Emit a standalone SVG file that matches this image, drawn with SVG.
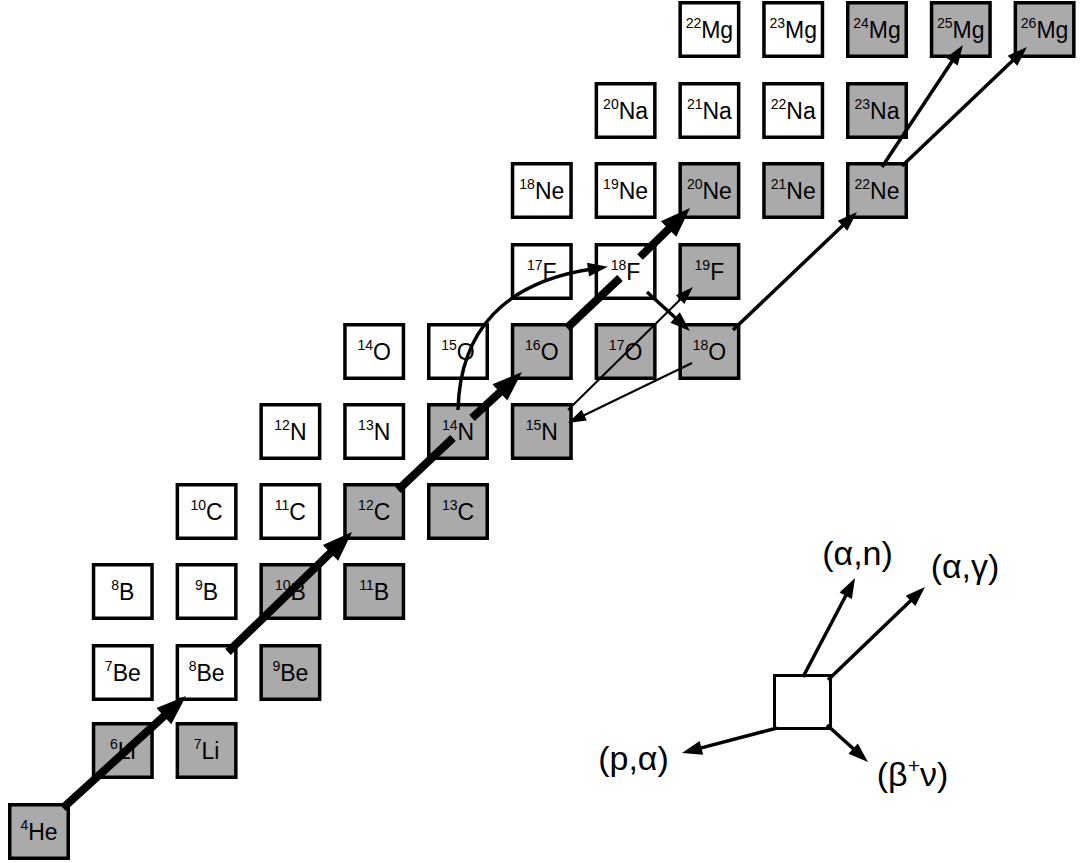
<svg xmlns="http://www.w3.org/2000/svg" width="1083" height="863" viewBox="0 0 1083 863">
  <style>
    .box { stroke: #000; stroke-width: 3.5; }
    .stable { fill: #aaaaaa; }
    .unstable { fill: #ffffff; }
    .lbl { font-family: "Liberation Sans", Arial, sans-serif; font-size: 23px; fill: #000; text-anchor: middle; }
    .sup { font-size: 14px; }
    .thick { stroke: #000; stroke-width: 8; fill: none; marker-end: url(#headL); }
    .thick-plain { stroke: #000; stroke-width: 8; fill: none; }
    .mid { stroke: #000; stroke-width: 3.5; fill: none; marker-end: url(#headM); }
    .thin { stroke: #000; stroke-width: 2; fill: none; marker-end: url(#headS); }
    .key { font-family: "Liberation Sans", Arial, sans-serif; font-size: 34px; fill: #000; text-anchor: middle; }
  </style>
  <defs>
    <marker id="headL" markerUnits="userSpaceOnUse" markerWidth="32" markerHeight="24" viewBox="0 -12 30 24" refX="6" refY="0" orient="auto">
      <path d="M0,-11 L30,0 L0,11 z" fill="#000"/>
    </marker>
    <marker id="headM" markerUnits="userSpaceOnUse" markerWidth="22" markerHeight="16" viewBox="0 -8 20 16" refX="4" refY="0" orient="auto">
      <path d="M0,-7 L20,0 L0,7 z" fill="#000"/>
    </marker>
    <marker id="headS" markerUnits="userSpaceOnUse" markerWidth="20" markerHeight="14" viewBox="0 -7 18 14" refX="3" refY="0" orient="auto">
      <path d="M0,-6 L18,0 L0,6 z" fill="#000"/>
    </marker>
  </defs>

  <!-- nuclide boxes: column pitch 83.8, row pitch ~80 -->
  <g id="nuclides">
    <!-- He / Li -->
    <g id="He4"><rect class="box stable" x="9.75" y="804.75" width="58.5" height="53.5"/><text class="lbl" x="39" y="840"><tspan class="sup" dy="-10.5">4</tspan><tspan dy="10.5">He</tspan></text></g>
    <g id="Li6"><rect class="box stable" x="93.55" y="723.75" width="58.5" height="53.5"/><text class="lbl" x="122.8" y="759"><tspan class="sup" dy="-10.5">6</tspan><tspan dy="10.5">Li</tspan></text></g>
    <g id="Li7"><rect class="box stable" x="177.35" y="723.75" width="58.5" height="53.5"/><text class="lbl" x="206.6" y="759"><tspan class="sup" dy="-10.5">7</tspan><tspan dy="10.5">Li</tspan></text></g>
    <!-- Be -->
    <g id="Be7"><rect class="box unstable" x="93.55" y="645.75" width="58.5" height="53.5"/><text class="lbl" x="122.8" y="681"><tspan class="sup" dy="-10.5">7</tspan><tspan dy="10.5">Be</tspan></text></g>
    <g id="Be8"><rect class="box unstable" x="177.35" y="645.75" width="58.5" height="53.5"/><text class="lbl" x="206.6" y="681"><tspan class="sup" dy="-10.5">8</tspan><tspan dy="10.5">Be</tspan></text></g>
    <g id="Be9"><rect class="box stable" x="261.15" y="645.75" width="58.5" height="53.5"/><text class="lbl" x="290.4" y="681"><tspan class="sup" dy="-10.5">9</tspan><tspan dy="10.5">Be</tspan></text></g>
    <!-- B -->
    <g id="B8"><rect class="box unstable" x="93.55" y="564.75" width="58.5" height="53.5"/><text class="lbl" x="122.8" y="600"><tspan class="sup" dy="-10.5">8</tspan><tspan dy="10.5">B</tspan></text></g>
    <g id="B9"><rect class="box unstable" x="177.35" y="564.75" width="58.5" height="53.5"/><text class="lbl" x="206.6" y="600"><tspan class="sup" dy="-10.5">9</tspan><tspan dy="10.5">B</tspan></text></g>
    <g id="B10"><rect class="box stable" x="261.15" y="564.75" width="58.5" height="53.5"/><text class="lbl" x="290.4" y="600"><tspan class="sup" dy="-10.5">10</tspan><tspan dy="10.5">B</tspan></text></g>
    <g id="B11"><rect class="box stable" x="344.95" y="564.75" width="58.5" height="53.5"/><text class="lbl" x="374.2" y="600"><tspan class="sup" dy="-10.5">11</tspan><tspan dy="10.5">B</tspan></text></g>
    <!-- C -->
    <g id="C10"><rect class="box unstable" x="177.35" y="484.75" width="58.5" height="53.5"/><text class="lbl" x="206.6" y="520"><tspan class="sup" dy="-10.5">10</tspan><tspan dy="10.5">C</tspan></text></g>
    <g id="C11"><rect class="box unstable" x="261.15" y="484.75" width="58.5" height="53.5"/><text class="lbl" x="290.4" y="520"><tspan class="sup" dy="-10.5">11</tspan><tspan dy="10.5">C</tspan></text></g>
    <g id="C12"><rect class="box stable" x="344.95" y="484.75" width="58.5" height="53.5"/><text class="lbl" x="374.2" y="520"><tspan class="sup" dy="-10.5">12</tspan><tspan dy="10.5">C</tspan></text></g>
    <g id="C13"><rect class="box stable" x="428.75" y="484.75" width="58.5" height="53.5"/><text class="lbl" x="458" y="520"><tspan class="sup" dy="-10.5">13</tspan><tspan dy="10.5">C</tspan></text></g>
    <!-- N -->
    <g id="N12"><rect class="box unstable" x="261.15" y="404.75" width="58.5" height="53.5"/><text class="lbl" x="290.4" y="440"><tspan class="sup" dy="-10.5">12</tspan><tspan dy="10.5">N</tspan></text></g>
    <g id="N13"><rect class="box unstable" x="344.95" y="404.75" width="58.5" height="53.5"/><text class="lbl" x="374.2" y="440"><tspan class="sup" dy="-10.5">13</tspan><tspan dy="10.5">N</tspan></text></g>
    <g id="N14"><rect class="box stable" x="428.75" y="404.75" width="58.5" height="53.5"/><text class="lbl" x="458" y="440"><tspan class="sup" dy="-10.5">14</tspan><tspan dy="10.5">N</tspan></text></g>
    <g id="N15"><rect class="box stable" x="512.55" y="404.75" width="58.5" height="53.5"/><text class="lbl" x="541.8" y="440"><tspan class="sup" dy="-10.5">15</tspan><tspan dy="10.5">N</tspan></text></g>
    <!-- O -->
    <g id="O14"><rect class="box unstable" x="344.95" y="324.75" width="58.5" height="53.5"/><text class="lbl" x="374.2" y="360"><tspan class="sup" dy="-10.5">14</tspan><tspan dy="10.5">O</tspan></text></g>
    <g id="O15"><rect class="box unstable" x="428.75" y="324.75" width="58.5" height="53.5"/><text class="lbl" x="458" y="360"><tspan class="sup" dy="-10.5">15</tspan><tspan dy="10.5">O</tspan></text></g>
    <g id="O16"><rect class="box stable" x="512.55" y="324.75" width="58.5" height="53.5"/><text class="lbl" x="541.8" y="360"><tspan class="sup" dy="-10.5">16</tspan><tspan dy="10.5">O</tspan></text></g>
    <g id="O17"><rect class="box stable" x="596.35" y="324.75" width="58.5" height="53.5"/><text class="lbl" x="625.6" y="360"><tspan class="sup" dy="-10.5">17</tspan><tspan dy="10.5">O</tspan></text></g>
    <g id="O18"><rect class="box stable" x="680.15" y="324.75" width="58.5" height="53.5"/><text class="lbl" x="709.4" y="360"><tspan class="sup" dy="-10.5">18</tspan><tspan dy="10.5">O</tspan></text></g>
    <!-- F -->
    <g id="F17"><rect class="box unstable" x="512.55" y="244.75" width="58.5" height="53.5"/><text class="lbl" x="541.8" y="280"><tspan class="sup" dy="-10.5">17</tspan><tspan dy="10.5">F</tspan></text></g>
    <g id="F18"><rect class="box unstable" x="596.35" y="244.75" width="58.5" height="53.5"/><text class="lbl" x="625.6" y="280"><tspan class="sup" dy="-10.5">18</tspan><tspan dy="10.5">F</tspan></text></g>
    <g id="F19"><rect class="box stable" x="680.15" y="244.75" width="58.5" height="53.5"/><text class="lbl" x="709.4" y="280"><tspan class="sup" dy="-10.5">19</tspan><tspan dy="10.5">F</tspan></text></g>
    <!-- Ne -->
    <g id="Ne18"><rect class="box unstable" x="512.55" y="163.75" width="58.5" height="53.5"/><text class="lbl" x="541.8" y="199"><tspan class="sup" dy="-10.5">18</tspan><tspan dy="10.5">Ne</tspan></text></g>
    <g id="Ne19"><rect class="box unstable" x="596.35" y="163.75" width="58.5" height="53.5"/><text class="lbl" x="625.6" y="199"><tspan class="sup" dy="-10.5">19</tspan><tspan dy="10.5">Ne</tspan></text></g>
    <g id="Ne20"><rect class="box stable" x="680.15" y="163.75" width="58.5" height="53.5"/><text class="lbl" x="709.4" y="199"><tspan class="sup" dy="-10.5">20</tspan><tspan dy="10.5">Ne</tspan></text></g>
    <g id="Ne21"><rect class="box stable" x="763.95" y="163.75" width="58.5" height="53.5"/><text class="lbl" x="793.2" y="199"><tspan class="sup" dy="-10.5">21</tspan><tspan dy="10.5">Ne</tspan></text></g>
    <g id="Ne22"><rect class="box stable" x="847.75" y="163.75" width="58.5" height="53.5"/><text class="lbl" x="877" y="199"><tspan class="sup" dy="-10.5">22</tspan><tspan dy="10.5">Ne</tspan></text></g>
    <!-- Na -->
    <g id="Na20"><rect class="box unstable" x="596.35" y="83.75" width="58.5" height="53.5"/><text class="lbl" x="625.6" y="119"><tspan class="sup" dy="-10.5">20</tspan><tspan dy="10.5">Na</tspan></text></g>
    <g id="Na21"><rect class="box unstable" x="680.15" y="83.75" width="58.5" height="53.5"/><text class="lbl" x="709.4" y="119"><tspan class="sup" dy="-10.5">21</tspan><tspan dy="10.5">Na</tspan></text></g>
    <g id="Na22"><rect class="box unstable" x="763.95" y="83.75" width="58.5" height="53.5"/><text class="lbl" x="793.2" y="119"><tspan class="sup" dy="-10.5">22</tspan><tspan dy="10.5">Na</tspan></text></g>
    <g id="Na23"><rect class="box stable" x="847.75" y="83.75" width="58.5" height="53.5"/><text class="lbl" x="877" y="119"><tspan class="sup" dy="-10.5">23</tspan><tspan dy="10.5">Na</tspan></text></g>
    <!-- Mg -->
    <g id="Mg22"><rect class="box unstable" x="680.15" y="2.75" width="58.5" height="53.5"/><text class="lbl" x="709.4" y="38"><tspan class="sup" dy="-10.5">22</tspan><tspan dy="10.5">Mg</tspan></text></g>
    <g id="Mg23"><rect class="box unstable" x="763.95" y="2.75" width="58.5" height="53.5"/><text class="lbl" x="793.2" y="38"><tspan class="sup" dy="-10.5">23</tspan><tspan dy="10.5">Mg</tspan></text></g>
    <g id="Mg24"><rect class="box stable" x="847.75" y="2.75" width="58.5" height="53.5"/><text class="lbl" x="877" y="38"><tspan class="sup" dy="-10.5">24</tspan><tspan dy="10.5">Mg</tspan></text></g>
    <g id="Mg25"><rect class="box stable" x="931.55" y="2.75" width="58.5" height="53.5"/><text class="lbl" x="960.8" y="38"><tspan class="sup" dy="-10.5">25</tspan><tspan dy="10.5">Mg</tspan></text></g>
    <g id="Mg26"><rect class="box stable" x="1015.35" y="2.75" width="58.5" height="53.5"/><text class="lbl" x="1044.6" y="38"><tspan class="sup" dy="-10.5">26</tspan><tspan dy="10.5">Mg</tspan></text></g>
  </g>

  <!-- reaction paths -->
  <g id="connectors">
    <!-- main alpha-capture chain (heavy) -->
    <line class="thick" x1="63" y1="808" x2="168.3" y2="712.2"/>
    <line class="thick" x1="228" y1="652" x2="334.8" y2="548.7"/>
    <line class="thick-plain" x1="398" y1="490" x2="453" y2="438"/>
    <line class="thick" x1="472" y1="418" x2="504.3" y2="388.3"/>
    <line class="thick-plain" x1="567" y1="328" x2="620" y2="278"/>
    <line class="thick" x1="640" y1="257" x2="672.9" y2="224.8"/>
    <!-- 14N -> 18F -->
    <path class="mid" d="M458,410 C460,330 505,282 592,269"/>
    <!-- 18F decay -> 18O -->
    <line class="mid" x1="647" y1="292" x2="678.1" y2="320.2"/>
    <!-- 18O -> 22Ne -->
    <line class="mid" x1="733" y1="330" x2="845.4" y2="223"/>
    <!-- 22Ne -> 25Mg, 26Mg -->
    <line class="mid" x1="882" y1="167" x2="954.1" y2="58.3"/>
    <line class="mid" x1="902" y1="166" x2="1015.4" y2="58"/>
    <!-- 15N -> 19F and 18O -> 15N (light) -->
    <line class="thin" x1="568" y1="410" x2="682.3" y2="297.5"/>
    <line class="thin" x1="692" y1="363" x2="581.5" y2="416.5"/>
  </g>

  <!-- key -->
  <g id="legend">
    <rect x="774.5" y="675.5" width="56" height="53" fill="#fff" stroke="#000" stroke-width="3"/>
    <line class="mid" x1="803" y1="677" x2="847.6" y2="592.2"/>
    <line class="mid" x1="828" y1="680" x2="913.4" y2="598.1"/>
    <line class="mid" x1="777" y1="728" x2="697.5" y2="748.9"/>
    <line class="mid" x1="827" y1="725" x2="856.1" y2="751.3"/>
    <text class="key" x="857.5" y="565">(α,n)</text>
    <text class="key" x="965" y="578">(α,γ)</text>
    <text class="key" x="633.5" y="770">(p,α)</text>
    <text class="key" x="912.5" y="786">(β<tspan font-size="21" dy="-13">+</tspan><tspan dy="13">ν)</tspan></text>
  </g>
</svg>
